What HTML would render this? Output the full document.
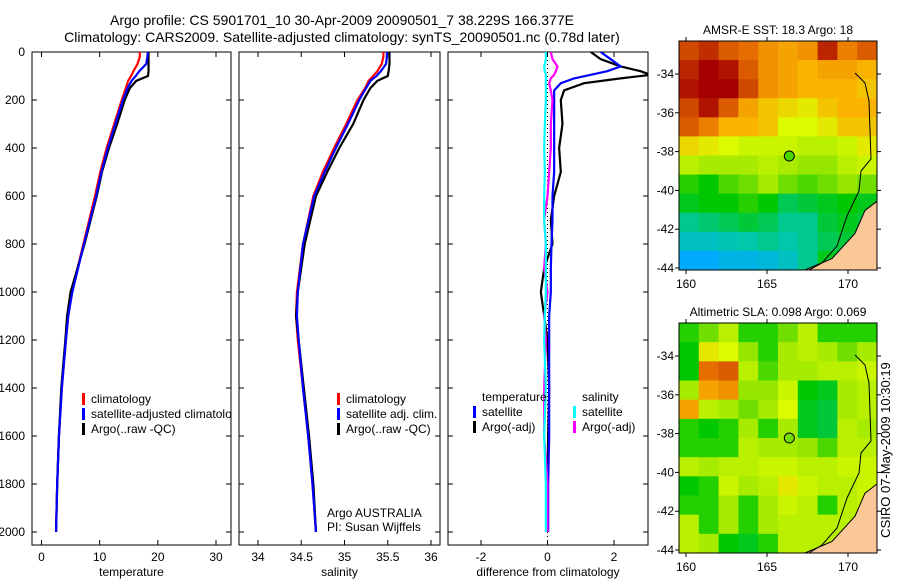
<!DOCTYPE html>
<html><head><meta charset="utf-8"><style>
html,body{margin:0;padding:0;background:#fff;}
svg text{font-family:"Liberation Sans",sans-serif;fill:#000;}
</style></head><body>
<svg id="fig" width="900" height="580" viewBox="0 0 900 580" xmlns="http://www.w3.org/2000/svg">
<text x="342" y="25" font-size="14" text-anchor="middle">Argo profile: CS 5901701_10 30-Apr-2009 20090501_7 38.229S 166.377E</text>
<text x="342" y="42" font-size="14" text-anchor="middle">Climatology: CARS2009. Satellite-adjusted climatology: synTS_20090501.nc (0.78d later)</text>
<text x="890" y="450" font-size="13" text-anchor="middle" transform="rotate(-90 890 450)">CSIRO 07-May-2009 10:30:19</text>
<g id="g"></g>
</svg>
<script>
// ---- profile data ----
const depths = [0,20,50,80,100,120,150,200,300,400,500,600,800,1000,1100,1200,1400,1600,1800,2000];
const tempClim = [16.9,16.9,16.5,15.8,15.4,14.9,14.5,13.8,12.5,11.2,10.1,9.2,7.2,5.2,4.6,4.2,3.5,3.0,2.7,2.5];
const tempSat  = [18.3,18.2,18.0,16.8,16.2,15.5,14.8,14.0,12.7,11.4,10.3,9.4,7.3,5.3,4.6,4.2,3.5,3.0,2.7,2.5];
const tempArgo = [18.4,18.4,18.4,18.4,18.3,16.3,15.2,14.3,13.0,11.6,10.4,9.5,7.4,5.0,4.4,4.1,3.4,3.0,2.7,2.5];
const salClim = [35.45,35.45,35.43,35.38,35.33,35.28,35.24,35.15,35.02,34.88,34.75,34.64,34.52,34.45,34.44,34.46,34.52,34.58,34.63,34.67];
const salSat  = [35.49,35.49,35.48,35.42,35.37,35.30,35.25,35.17,35.04,34.90,34.77,34.65,34.52,34.46,34.45,34.47,34.52,34.58,34.63,34.67];
const salArgo = [35.52,35.52,35.52,35.51,35.50,35.38,35.30,35.22,35.10,34.94,34.80,34.67,34.54,34.46,34.44,34.47,34.53,34.59,34.64,34.67];
const diffDepths = [0,30,60,80,95,110,130,160,200,300,400,500,600,700,800,900,1000,1100,1200,1400,1600,1800,2000];
const dTempSat  = [1.6,1.9,2.2,1.8,1.3,0.8,0.4,0.2,0.2,0.2,0.2,0.2,0.15,0.15,0.12,0.1,0.1,0.05,0.05,0.05,0.05,0.02,0.02];
const dTempArgo = [1.3,1.6,2.2,2.8,3.1,2.2,1.1,0.5,0.4,0.45,0.35,0.4,0.2,0.1,0.15,-0.1,-0.2,-0.1,0.0,0.05,0.02,0.0,0.0];
const dSalSat   = [-0.05,-0.05,-0.1,-0.08,-0.05,-0.05,-0.05,-0.05,-0.05,-0.08,-0.1,-0.08,-0.1,-0.1,-0.05,-0.05,-0.05,-0.08,-0.1,-0.05,-0.1,-0.05,-0.05];
const dSalArgo  = [0.1,0.15,0.3,0.25,0.2,0.1,0.05,0.1,0.15,0.1,0.1,0.05,0.0,-0.1,-0.05,-0.1,0.0,-0.1,-0.05,-0.1,-0.1,0.0,0.0];
const tempTicks=[0,10,20,30], salTicks=[34,34.5,35,35.5,36], diffTicks=[-2,0,2], depthTicks=[0,200,400,600,800,1000,1200,1400,1600,1800,2000];
// ---- map data (rows north->south, cols west->east) ----
const sstGrid=[
[21.2,21.5,21.0,20.8,20.4,20.2,20.4,21.6,20.6,21.0],
[21.6,22.0,21.8,21.0,20.4,20.2,20.0,20.2,20.2,20.0],
[21.8,22.0,22.0,21.2,20.4,20.2,20.0,20.0,20.0,19.8],
[21.2,21.8,21.0,20.2,19.8,19.6,19.4,19.8,20.0,20.0],
[21.0,20.6,20.0,20.0,19.8,19.2,19.2,19.4,19.8,19.8],
[19.6,19.4,19.2,19.0,19.0,19.0,18.8,18.8,19.0,19.4],
[18.8,18.6,18.6,18.6,18.8,18.6,18.4,18.4,18.8,19.0],
[17.8,17.6,18.0,18.2,18.6,18.2,18.0,18.2,18.4,18.2],
[17.4,17.6,17.6,17.8,17.6,17.0,17.2,17.4,17.6,17.4],
[16.6,16.8,17.0,17.2,17.0,16.6,16.6,17.2,17.4,17.2],
[16.0,16.0,16.2,16.4,16.6,16.4,16.6,17.0,17.2,16.8],
[15.0,15.0,15.4,15.4,15.6,16.0,16.6,17.4,17.2,17.0]];
const slaGrid=[
[-0.04,0.0,0.06,-0.04,-0.04,0.0,0.06,-0.04,-0.04,-0.04],
[-0.06,0.12,0.1,0.02,-0.04,0.04,0.06,0.04,0.0,0.04],
[-0.06,0.26,0.28,0.06,-0.02,0.04,0.04,0.06,0.06,0.08],
[0.04,0.2,0.22,0.02,0.02,0.08,-0.06,-0.08,0.04,0.06],
[0.2,0.06,0.04,0.0,0.04,0.1,-0.08,-0.1,0.04,0.06],
[-0.04,-0.06,-0.04,0.04,-0.04,0.04,-0.08,-0.1,0.06,0.04],
[-0.04,-0.04,-0.04,0.06,0.04,0.04,0.02,-0.02,0.06,0.06],
[0.06,0.04,0.06,0.06,0.08,0.08,0.06,0.06,0.08,0.08],
[-0.06,-0.04,0.08,0.04,0.06,0.12,0.08,0.06,0.06,0.08],
[-0.04,-0.04,0.04,-0.04,0.04,0.08,0.06,-0.04,0.06,0.08],
[0.06,-0.04,0.04,-0.04,0.04,0.06,0.06,0.06,0.06,0.08],
[0.06,0.04,-0.06,-0.08,-0.04,0.06,0.06,0.06,0.08,0.08]];
const lonTicks=[160,165,170], latTicks=[-34,-36,-38,-40,-42,-44];
const argoLon=166.377, argoLat=-38.229, argoSST=18, argoSLA=0.0;

const NS="http://www.w3.org/2000/svg", G=document.getElementById('g');
function el(t,a,p){const e=document.createElementNS(NS,t);for(const k in a)e.setAttribute(k,a[k]);(p||G).appendChild(e);return e;}
function lin(d0,d1,r0,r1){return v=>r0+(v-d0)*(r1-r0)/(d1-d0);}
const yD=lin(0,2000,52,532);
function panel(name,x0,x1,xs,ticks,label){
  const r=el('rect',{x:x0,y:52,width:x1-x0,height:493,fill:'none',stroke:'#000','stroke-width':1});
  
  
  ticks.forEach(t=>{const x=xs(t);el('line',{x1:x,x2:x,y1:545,y2:540,stroke:'#000'});el('line',{x1:x,x2:x,y1:52,y2:57,stroke:'#000'});
    const tx=el('text',{x:x,y:561,'font-size':12,'text-anchor':'middle'});tx.textContent=t;
    
    });
  depthTicks.forEach(d=>{const y=yD(d);el('line',{x1:x0,x2:x0+5,y1:y,y2:y,stroke:'#000'});el('line',{x1:x1,x2:x1-5,y1:y,y2:y,stroke:'#000'});});
  const lt=el('text',{x:(x0+x1)/2,y:576,'font-size':12,'text-anchor':'middle'});lt.textContent=label;
  
  
}
const defs=el('defs',{});
[[32,231,'c1'],[239,440,'c2'],[448,648,'c3']].forEach(c=>{const cp=el('clipPath',{id:c[2]},defs);el('rect',{x:c[0],y:52,width:c[1]-c[0],height:493},cp);});
depthTicks.forEach(d=>{const t=el('text',{x:25,y:yD(d)+4,'font-size':12,'text-anchor':'end'});t.textContent=d;
  
  });
// panel 1 temperature
const xT=lin(0,30,41.5,216);
panel('temperature-panel',32,231,xT,tempTicks,'temperature');
const g1=el('g',{'clip-path':'url(#c1)'});
[[tempClim,'red','temp-climatology-line'],[tempArgo,'#000','temp-argo-line'],[tempSat,'blue','temp-satellite-line']].forEach(s=>{
  const p=el('polyline',{points:s[0].map((v,i)=>xT(v)+','+yD(depths[i])).join(' '),fill:'none',stroke:s[1],'stroke-width':2.2},g1);
  
  });
function legend(x,y,items,clip,name){
  const g=el('g',clip?{'clip-path':clip}:{});
  
  
  items.forEach((it,i)=>{const yy=y+i*15;
    if(it[1])el('rect',{x:x,y:yy-10,width:3,height:12,fill:it[1]},g);
    const t=el('text',{x:x+9,y:yy,'font-size':12},g);t.textContent=it[0];});
}
legend(82,403,[['climatology','red'],['satellite-adjusted climatology','blue'],['Argo(..raw -QC)','#000']],'url(#c1)','temperature-legend');
// panel 2 salinity
const xS=lin(34,36,258,431);
panel('salinity-panel',239,440,xS,salTicks,'salinity');
const g2=el('g',{'clip-path':'url(#c2)'});
[[salClim,'red','sal-climatology-line'],[salArgo,'#000','sal-argo-line'],[salSat,'blue','sal-satellite-line']].forEach(s=>{
  const p=el('polyline',{points:s[0].map((v,i)=>xS(v)+','+yD(depths[i])).join(' '),fill:'none',stroke:s[1],'stroke-width':2.2},g2);
  
  });
legend(337,403,[['climatology','red'],['satellite adj. clim.','blue'],['Argo(..raw -QC)','#000']],null,'salinity-legend');
const a1=el('text',{x:327,y:517,'font-size':12});a1.textContent='Argo AUSTRALIA';

const a2=el('text',{x:327,y:531,'font-size':12});a2.textContent='PI: Susan Wijffels';

// panel 3 difference
const xF=lin(-2,2,481,614);
panel('difference-panel',448,648,xF,diffTicks,'difference from climatology');
el('line',{x1:xF(0),x2:xF(0),y1:52,y2:545,stroke:'#000','stroke-dasharray':'1,3'});
const g3=el('g',{'clip-path':'url(#c3)'});
[[dTempArgo,'#000','diff-temp-argo-line'],[dTempSat,'blue','diff-temp-satellite-line'],[dSalArgo,'#f0f','diff-sal-argo-line'],[dSalSat,'cyan','diff-sal-satellite-line']].forEach(s=>{
  const p=el('polyline',{points:s[0].map((v,i)=>xF(v)+','+yD(diffDepths[i])).join(' '),fill:'none',stroke:s[1],'stroke-width':2.2},g3);
  
  });
legend(473,401,[['temperature',null],['satellite','blue'],['Argo(-adj)','#000']],null,'diff-temp-legend');
legend(573,401,[['salinity',null],['satellite','cyan'],['Argo(-adj)','#f0f']],null,'diff-sal-legend');
// maps
const STOPS=[[0,[0,60,200]],[0.12,[0,170,255]],[0.3,[0,200,170]],[0.45,[0,200,0]],[0.55,[150,230,0]],[0.65,[220,250,0]],[0.75,[250,180,0]],[0.85,[230,110,0]],[1,[165,0,0]]];
function cmap(t){t=Math.max(0,Math.min(1,t));for(let i=1;i<STOPS.length;i++){if(t<=STOPS[i][0]){const a=STOPS[i-1],b=STOPS[i],f=(t-a[0])/(b[0]-a[0]);
  const c=a[1].map((v,k)=>Math.round(v+(b[1][k]-v)*f));return `rgb(${c[0]},${c[1]},${c[2]})`;}}return 'rgb(165,0,0)';}
function map(name,top,bot,grid,vmin,vmax,title,argoVal){
  const x0=679,x1=877,xL=lin(160,170,686,848),yL=lin(-34,-44,top+33,top+227);
  const rows=grid.length,cols=grid[0].length,cw=(x1-x0)/cols,ch=(bot-top)/rows;
  grid.forEach((row,i)=>row.forEach((v,j)=>{const c=el('rect',{x:x0+j*cw,y:top+i*ch,width:cw+0.5,height:ch+0.5,fill:cmap((v-vmin)/(vmax-vmin))});
    
    }));
  const H=bot-top;
  const land=el('polygon',{points:`${x1},${top+H*0.70} ${x1-12},${top+H*0.74} ${x1-22},${top+H*0.84} ${x1-45},${top+H*0.95} ${x1-72},${bot} ${x1},${bot}`,fill:'#fac896',stroke:'#000','stroke-width':1});
  
  el('polyline',{points:`${x1-22},${top+32} ${x1-12},${top+42} ${x1-8},${top+60} ${x1-6},${top+118} ${x1-16},${top+130} ${x1-18},${top+150} ${x1-30},${top+175} ${x1-40},${top+205} ${x1-55},${top+222} ${x1-68},${bot}`,fill:'none',stroke:'#000','stroke-width':1});
  const fr=el('rect',{x:x0,y:top,width:x1-x0,height:bot-top,fill:'none',stroke:'#000'});
  
  lonTicks.forEach(l=>{const x=xL(l);el('line',{x1:x,x2:x,y1:bot,y2:bot+4,stroke:'#000'});el('line',{x1:x,x2:x,y1:top,y2:top-4,stroke:'#000'});
    const t=el('text',{x:x,y:bot+18,'font-size':12,'text-anchor':'middle'});t.textContent=l;
    });
  latTicks.forEach(l=>{const y=yL(l);el('line',{x1:x0,x2:x0-4,y1:y,y2:y,stroke:'#000'});el('line',{x1:x1,x2:x1+4,y1:y,y2:y,stroke:'#000'});
    const t=el('text',{x:x0-5,y:y+4,'font-size':12,'text-anchor':'end'});t.textContent=l;
    });
  const mk=el('circle',{cx:xL(argoLon),cy:yL(argoLat),r:5,fill:cmap((argoVal-vmin)/(vmax-vmin)),stroke:'#000'});
  
  const tt=el('text',{x:(x0+x1)/2,y:top-7,'font-size':12,'text-anchor':'middle'});tt.textContent=title;
  
}
map('sst-map',41,270,sstGrid,14,22,'AMSR-E SST: 18.3 Argo: 18',argoSST);
map('sla-map',323,553,slaGrid,-0.42,0.38,'Altimetric SLA: 0.098 Argo: 0.069',argoSLA);
</script>
</body></html>
